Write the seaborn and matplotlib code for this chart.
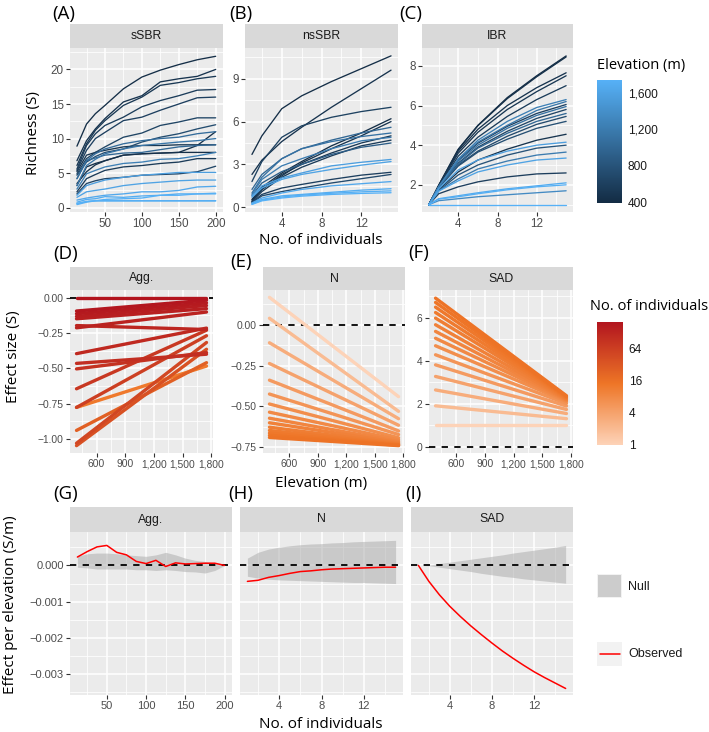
import matplotlib
matplotlib.use("Agg")
import matplotlib.pyplot as plt
import pandas as pd
import seaborn as sns
from matplotlib.cm import ScalarMappable
from matplotlib.colors import LinearSegmentedColormap, LogNorm, Normalize
from matplotlib.patches import Rectangle
from matplotlib.ticker import FixedLocator, FuncFormatter, NullFormatter

# ---------------- data ----------------
# (A) sample-based rarefaction, one curve per site
A_X = [12, 25, 37, 50, 75, 100, 125, 150, 175, 200]
A_ELEV = [420, 470, 520, 560, 600, 640, 720, 1050, 450, 1150, 500, 1000,
          430, 1250, 550, 650, 1550, 1600, 1650, 1700, 1740, 1680, 1720]
A_RICH = [
    [8.9, 12.1, 13.6, 14.8, 17.2, 18.9, 19.9, 20.7, 21.4, 21.9],
    [6.8, 9.7, 11.4, 12.9, 15.3, 16.2, 18.2, 18.65, 19.0, 20.0],
    [6.1, 9.25, 11.2, 12.6, 14.8, 16.0, 17.7, 18.1, 18.65, 19.0],
    [5.6, 9.0, 10.7, 11.9, 13.1, 14.6, 15.5, 16.2, 17.0, 17.1],
    [5.4, 8.3, 10.0, 10.9, 12.6, 13.1, 14.1, 15.0, 15.9, 16.0],
    [4.9, 7.1, 8.0, 8.8, 10.2, 10.8, 11.9, 12.4, 13.0, 13.0],
    [4.7, 6.6, 7.4, 8.0, 8.5, 9.5, 10.2, 10.7, 11.4, 12.0],
    [4.2, 6.8, 7.8, 8.5, 9.25, 9.7, 10.0, 10.2, 10.7, 11.0],
    [3.5, 5.2, 6.2, 6.8, 7.6, 7.8, 7.9, 8.0, 9.0, 11.0],
    [3.2, 6.1, 7.0, 7.8, 8.5, 9.0, 9.25, 9.5, 9.7, 10.0],
    [5.2, 7.6, 8.0, 8.3, 8.8, 9.0, 9.0, 9.1, 9.1, 9.1],
    [4.2, 6.8, 7.2, 7.6, 7.9, 8.0, 8.4, 8.8, 9.0, 9.1],
    [3.2, 5.9, 6.4, 6.8, 7.6, 7.8, 7.9, 8.0, 8.0, 8.0],
    [2.7, 4.9, 5.4, 5.9, 6.4, 6.6, 7.0, 7.1, 7.5, 8.0],
    [2.3, 4.2, 4.8, 5.4, 5.9, 6.1, 6.4, 6.6, 7.1, 7.1],
    [2.0, 3.5, 3.9, 4.2, 4.4, 4.7, 4.8, 4.9, 5.2, 6.0],
    [1.8, 3.2, 3.6, 4.0, 4.4, 4.7, 4.9, 5.1, 5.1, 5.1],
    [1.5, 2.3, 2.5, 2.7, 3.2, 3.5, 3.7, 3.9, 4.0, 4.0],
    [1.1, 1.4, 1.6, 1.8, 2.0, 2.3, 2.3, 2.5, 3.0, 3.1],
    [0.8, 1.2, 1.3, 1.6, 1.5, 1.7, 1.8, 2.0, 2.0, 2.1],
    [0.6, 0.9, 1.0, 1.2, 1.3, 1.4, 1.8, 1.8, 2.0, 2.0],
    [0.6, 0.9, 1.0, 1.0, 1.0, 1.0, 1.0, 1.0, 1.0, 1.0],
    [0.45, 0.8, 1.0, 1.0, 1.0, 1.0, 1.0, 1.0, 1.0, 1.0],
]

# (B) non-spatial sample-based rarefaction
B_X = [1, 2, 4, 6, 9, 12, 15]
B_ELEV = [420, 470, 620, 430, 480, 1000, 1100, 520, 1200, 550, 900,
          1550, 1600, 600, 700, 1650, 1700, 1720, 1740]
B_RICH = [
    [3.7, 5.0, 6.9, 7.8, 8.8, 9.7, 10.6],
    [2.3, 3.3, 4.6, 5.6, 7.0, 8.3, 9.6],
    [1.8, 3.2, 4.9, 5.7, 6.3, 6.7, 7.0],
    [0.55, 1.4, 2.4, 3.2, 4.3, 5.2, 6.2],
    [0.5, 1.25, 2.2, 3.1, 4.1, 5.0, 6.0],
    [1.25, 2.3, 3.4, 4.1, 4.7, 5.2, 5.6],
    [1.0, 2.1, 3.4, 4.1, 4.6, 4.95, 5.2],
    [0.4, 1.25, 2.3, 3.0, 3.8, 4.5, 5.0],
    [0.9, 1.95, 2.9, 3.4, 4.1, 4.65, 4.9],
    [0.4, 1.1, 2.1, 2.8, 3.6, 4.3, 4.7],
    [0.8, 1.7, 2.5, 3.0, 3.7, 4.2, 4.5],
    [0.8, 1.5, 2.05, 2.4, 2.9, 3.15, 3.35],
    [0.7, 1.35, 1.95, 2.3, 2.65, 2.95, 3.2],
    [0.35, 0.9, 1.35, 1.6, 1.95, 2.25, 2.45],
    [0.3, 0.8, 1.1, 1.35, 1.7, 2.0, 2.3],
    [0.3, 0.65, 1.0, 1.25, 1.5, 1.65, 1.8],
    [0.25, 0.55, 0.8, 0.9, 1.05, 1.2, 1.3],
    [0.22, 0.5, 0.72, 0.85, 0.98, 1.08, 1.15],
    [0.2, 0.45, 0.65, 0.78, 0.9, 0.97, 1.02],
]

# (C) individual-based rarefaction
C_X = [1, 2, 4, 6, 9, 12, 15]
C_ELEV = [400, 440, 470, 510, 560, 1250, 1150, 600, 1100, 650, 1000, 700,
          750, 480, 1550, 800, 1200, 1600, 580, 1680, 1720, 1350, 1740]
C_RICH = [
    [1, 1.98, 3.8, 5.0, 6.4, 7.5, 8.5],
    [1, 1.97, 3.78, 4.98, 6.35, 7.45, 8.45],
    [1, 1.95, 3.7, 4.8, 6.0, 6.9, 7.65],
    [1, 1.93, 3.6, 4.65, 5.8, 6.7, 7.5],
    [1, 1.92, 3.45, 4.4, 5.45, 6.3, 7.0],
    [1, 1.9, 3.3, 4.25, 5.2, 5.9, 6.3],
    [1, 1.9, 3.3, 4.15, 5.0, 5.75, 6.2],
    [1, 1.9, 3.25, 4.1, 4.95, 5.6, 6.05],
    [1, 1.88, 3.2, 4.0, 4.85, 5.5, 5.95],
    [1, 1.88, 3.1, 3.9, 4.7, 5.35, 5.8],
    [1, 1.87, 3.05, 3.85, 4.6, 5.2, 5.6],
    [1, 1.86, 3.0, 3.7, 4.45, 5.05, 5.45],
    [1, 1.85, 2.95, 3.65, 4.3, 4.85, 5.2],
    [1, 1.75, 2.65, 3.25, 3.8, 4.25, 4.55],
    [1, 1.8, 2.75, 3.25, 3.7, 4.0, 4.15],
    [1, 1.7, 2.5, 3.0, 3.5, 3.85, 4.0],
    [1, 1.7, 2.3, 2.8, 3.2, 3.5, 3.65],
    [1, 1.68, 2.2, 2.65, 3.0, 3.25, 3.35],
    [1, 1.55, 1.9, 2.15, 2.4, 2.55, 2.6],
    [1, 1.3, 1.45, 1.6, 1.8, 1.95, 2.1],
    [1, 1.28, 1.4, 1.55, 1.75, 1.9, 2.0],
    [1, 1.2, 1.3, 1.4, 1.5, 1.6, 1.7],
    [1, 1, 1, 1, 1, 1, 1],
]

# (D)-(F) fitted effect size at the lowest and highest elevation
LINE_ELEV = [390, 1750]
D_N = [12.5, 25, 37.5, 50, 62.5, 75, 87.5, 100, 112.5, 125, 137.5, 150,
       162.5, 175, 187.5, 200]
D_LEFT = [-0.777, -0.94, -1.048, -1.031, -0.777, -0.645, -0.504, -0.465,
          -0.396, -0.197, -0.213, -0.149, -0.132, -0.113, -0.094, 0.0]
D_RIGHT = [-0.484, -0.46, -0.365, -0.317, -0.269, -0.23, -0.388, -0.40,
           -0.215, -0.225, -0.101, -0.077, -0.055, -0.036, -0.017, 0.0]

E_N = [1, 2, 3, 4, 5, 6, 7, 8, 9, 10, 11, 12, 13, 14, 15]
E_LEFT = [0.168, 0.04, -0.11, -0.237, -0.339, -0.424, -0.485, -0.535,
          -0.572, -0.60, -0.627, -0.647, -0.663, -0.677, -0.69]
E_RIGHT = [-0.44, -0.53, -0.575, -0.615, -0.65, -0.672, -0.692, -0.705,
           -0.715, -0.722, -0.728, -0.732, -0.735, -0.738, -0.740]

F_N = E_N
F_LEFT = [1.01, 1.90, 2.64, 3.27, 3.81, 4.28, 4.70, 5.05, 5.37, 5.68, 5.99,
          6.25, 6.5, 6.72, 6.92]
F_RIGHT = [1.01, 1.30, 1.54, 1.73, 1.89, 2.01, 2.10, 2.15, 2.18, 2.21, 2.25,
           2.28, 2.31, 2.34, 2.37]

# (G)-(I) effect per elevation, observed vs null envelope
G_N = D_N
G_OBS = [0.00023, 0.00038, 0.00051, 0.00055, 0.00036, 0.00029, 0.00011,
         0.00005, 0.00014, -0.00003, 0.00007, 0.00004, 0.00005, 0.00006,
         0.00006, 0.0]
G_UP = [0.00025, 0.00032, 0.00034, 0.00034, 0.00032, 0.00029, 0.00027,
        0.00025, 0.00029, 0.00036, 0.00029, 0.0002, 0.00014, 0.00011,
        0.00006, 0.0]
G_LO = [-0.00005, -0.00007, -0.0001, -0.0001, -0.0001, -0.0001, -0.00012,
        -0.00012, -0.00014, -0.00012, -0.00014, -0.00017, -0.00018,
        -0.00021, -0.00014, 0.0]

H_N = E_N
H_OBS = [-0.00044, -0.00041, -0.00033, -0.00028, -0.00022, -0.00017,
         -0.00015, -0.00012, -0.0001, -0.00009, -0.00008, -0.00007,
         -0.00006, -0.00005, -0.00005]
H_UP = [0.0002, 0.00036, 0.00045, 0.0005, 0.00054, 0.00057, 0.00059, 0.0006,
        0.00062, 0.00063, 0.00065, 0.00066, 0.00067, 0.00068, 0.00069]
H_LO = [-0.0003, -0.00035, -0.00038, -0.0004, -0.00041, -0.00042, -0.00043,
        -0.00044, -0.00045, -0.00046, -0.00047, -0.00047, -0.00048,
        -0.00049, -0.0005]

I_N = E_N
I_OBS = [0.0, -0.00044, -0.00081, -0.00113, -0.00141, -0.00167, -0.00191,
         -0.00214, -0.00236, -0.00256, -0.00275, -0.00293, -0.00309,
         -0.00324, -0.00339]
I_UP = [0.0, 0.00001, 0.00005, 0.00009, 0.00013, 0.00017, 0.00021, 0.00025,
        0.00029, 0.00034, 0.00038, 0.00042, 0.00046, 0.0005, 0.00055]
I_LO = [0.0, -0.00001, -0.00005, -0.00009, -0.00013, -0.00017, -0.00022,
        -0.00026, -0.0003, -0.00033, -0.00037, -0.0004, -0.00043, -0.00046,
        -0.00049]

ELEV_TICKS = [400, 800, 1200, 1600]
N_TICKS = [1, 4, 16, 64]

# ---------------- styling ----------------
W, H = 709, 732
PANEL_BG = "#EBEBEB"
STRIP_BG = "#D9D9D9"
TICK_TXT = "#4D4D4D"
TITLE_FONT = ["Open Sans", "DejaVu Sans"]

sns.set_theme(style="darkgrid")
plt.rcParams["font.family"] = ["Liberation Sans", "DejaVu Sans"]
plt.rcParams["axes.unicode_minus"] = True

elev_cmap = LinearSegmentedColormap.from_list("elev", ["#132B43", "#56B1F7"])
elev_norm = Normalize(390, 1745)
n_cmap = LinearSegmentedColormap.from_list("nind", ["#FDD3B8", "#EE7526", "#B2151F"])
n_norm = LogNorm(1, 200)

fig = plt.figure(figsize=(W / 100, H / 100), dpi=100, facecolor="white")


def px_axes(x0, y0, x1, y1):
    return fig.add_axes([x0 / W, 1 - y1 / H, (x1 - x0) / W, (y1 - y0) / H])


def minus(fmt):
    return FuncFormatter(lambda v, _: format(v, fmt).replace("-", "\u2212"))


def style_panel(ax, xlim, ylim, xmaj, xmin, ymaj, ymin, xfmt, yfmt,
                size, show_y=True):
    ax.set_facecolor(PANEL_BG)
    ax.set_xlim(xlim)
    ax.set_ylim(ylim)
    ax.xaxis.set_major_locator(FixedLocator(xmaj))
    ax.xaxis.set_minor_locator(FixedLocator(xmin))
    ax.yaxis.set_major_locator(FixedLocator(ymaj))
    ax.yaxis.set_minor_locator(FixedLocator(ymin))
    ax.xaxis.set_major_formatter(xfmt)
    ax.yaxis.set_major_formatter(yfmt if show_y else NullFormatter())
    ax.grid(which="major", color="white", linewidth=1.1)
    ax.grid(which="minor", color="white", linewidth=0.55)
    ax.set_axisbelow(True)
    for s in ax.spines.values():
        s.set_visible(False)
    ax.tick_params(which="major", length=3, width=0.8, color="#333333",
                   labelcolor=TICK_TXT, labelsize=size, pad=1.5,
                   bottom=True, left=show_y)
    ax.tick_params(which="minor", length=0)
    ax.set_xlabel("")
    ax.set_ylabel("")


def add_strip(x0, x1, y0, y1, label, size=8.8):
    sax = px_axes(x0, y0, x1, y1)
    sax.set_facecolor(STRIP_BG)
    sax.set_xticks([])
    sax.set_yticks([])
    sax.grid(False)
    for s in sax.spines.values():
        s.set_visible(False)
    sax.text(0.5, 0.5, label, ha="center", va="center", fontsize=size,
             color="#1A1A1A", transform=sax.transAxes)


def curve_frame(xs, elevs, curves):
    rows = []
    for site, (elev, vals) in enumerate(zip(elevs, curves)):
        for x, s in zip(xs, vals):
            rows.append((site, elev, x, s))
    return pd.DataFrame(rows, columns=["site", "elev", "x", "S"])


def effect_frame(ns, left, right):
    rows = []
    for n, a, b in zip(ns, left, right):
        rows.append((n, LINE_ELEV[0], a))
        rows.append((n, LINE_ELEV[1], b))
    return pd.DataFrame(rows, columns=["n", "elev", "effect"])


def panel_label(x, y, txt):
    fig.text(x / W, 1 - y / H, txt, ha="left", va="center", fontsize=13.5,
             family=TITLE_FONT, color="black")


def axis_title(x, y, txt, rot=0):
    fig.text(x / W, 1 - y / H, txt, ha="center", va="center", fontsize=11,
             family=TITLE_FONT, color="black", rotation=rot)


int_fmt = FuncFormatter(lambda v, _: f"{v:,.0f}")

# ---------------- top row ----------------
top = [
    ("(A)", "sSBR", (70, 222.7), A_X, A_ELEV, A_RICH, (2.6, 209.5), (-0.62, 23.1),
     [50, 100, 150, 200], [25, 75, 125, 175], [0, 5, 10, 15, 20],
     [2.5, 7.5, 12.5, 17.5, 22.5], 52),
    ("(B)", "nsSBR", (245, 398), B_X, B_ELEV, B_RICH, (0.3, 15.7), (-0.33, 11.15),
     [4, 8, 12], [2, 6, 10, 14], [0, 3, 6, 9], [1.5, 4.5, 7.5, 10.5], 229),
    ("(C)", "IBR", (422, 573), C_X, C_ELEV, C_RICH, (0.3, 15.7), (0.63, 8.9),
     [4, 8, 12], [2, 6, 10, 14], [2, 4, 6, 8], [1, 3, 5, 7], 399),
]
for lab, strip, (x0, x1), xs, elevs, curves, xl, yl, xma, xmi, yma, ymi, lx in top:
    add_strip(x0, x1, 24, 48, strip)
    ax = px_axes(x0, 48, x1, 212)
    df = curve_frame(xs, elevs, curves)
    sns.lineplot(data=df, x="x", y="S", hue="elev", units="site", estimator=None,
                 palette=elev_cmap, hue_norm=elev_norm, linewidth=0.95,
                 legend=False, ax=ax)
    style_panel(ax, xl, yl, xma, xmi, yma, ymi, int_fmt, int_fmt, 8.4)
    panel_label(lx, 14, lab)

axis_title(33, 133, "Richness (S)", rot=90)
axis_title(321, 241, "No. of individuals")

# elevation colour bar
fig.text(597 / W, 1 - 66 / H, "Elevation (m)", ha="left", va="center",
         fontsize=10.5, family=TITLE_FONT, color="black")
cax = px_axes(597, 80, 622, 203)
cb = fig.colorbar(ScalarMappable(norm=elev_norm, cmap=elev_cmap), cax=cax,
                  ticks=ELEV_TICKS)
cb.ax.set_yticklabels([f"{t:,}" for t in ELEV_TICKS])

# ---------------- middle row ----------------
mid = [
    ("(D)", "Agg.", (70, 213), D_N, D_LEFT, D_RIGHT, (-1.10, 0.055),
     [-1.0, -0.75, -0.5, -0.25, 0.0], [-1.125, -0.875, -0.625, -0.375, -0.125, 0.125],
     minus(".2f"), 53, 254),
    ("(E)", "N", (263, 405), E_N, E_LEFT, E_RIGHT, (-0.785, 0.213),
     [-0.75, -0.5, -0.25, 0.0], [-0.625, -0.375, -0.125, 0.125],
     minus(".2f"), 230, 262),
    ("(F)", "SAD", (429, 573), F_N, F_LEFT, F_RIGHT, (-0.3, 7.3),
     [0, 2, 4, 6], [1, 3, 5, 7], int_fmt, 408, 253),
]
for lab, strip, (x0, x1), ns, left, right, yl, yma, ymi, yf, lx, ly in mid:
    add_strip(x0, x1, 267, 290, strip)
    ax = px_axes(x0, 290, x1, 453)
    ax.axhline(0, color="black", linewidth=1.3, linestyle=(0, (3.5, 3.5)), zorder=1.5)
    df = effect_frame(ns, left, right)
    sns.lineplot(data=df, x="elev", y="effect", hue="n", units="n", estimator=None,
                 palette=n_cmap, hue_norm=n_norm, linewidth=2.4,
                 legend=False, ax=ax)
    style_panel(ax, (322, 1818), yl, [600, 900, 1200, 1500, 1800],
                [450, 750, 1050, 1350, 1650], yma, ymi, int_fmt, yf, 7.4)
    panel_label(lx, ly, lab)

axis_title(14, 357, "Effect size (S)", rot=90)
axis_title(321, 483, "Elevation (m)")

fig.text(590 / W, 1 - 307 / H, "No. of individuals", ha="left", va="center",
         fontsize=10.5, family=TITLE_FONT, color="black")
cax2 = px_axes(597, 322, 623, 445)
cb2 = fig.colorbar(ScalarMappable(norm=n_norm, cmap=n_cmap), cax=cax2, ticks=N_TICKS)
cb2.ax.set_yticklabels([str(t) for t in N_TICKS])
cb2.ax.minorticks_off()

for c in (cb, cb2):
    c.outline.set_visible(False)
    c.ax.grid(False)
    c.ax.tick_params(which="major", direction="in", color="white", length=3.6,
                     width=0.8, left=True, right=True, labelsize=8.6,
                     labelcolor="#1A1A1A", pad=4)

# ---------------- bottom row ----------------
bot = [
    ("(G)", "Agg.", (70, 232), G_N, G_OBS, G_UP, G_LO, (3.1, 209.4),
     [50, 100, 150, 200], [25, 75, 125, 175], True, 53),
    ("(H)", "N", (240, 403), H_N, H_OBS, H_UP, H_LO, (0.3, 15.7),
     [4, 8, 12], [2, 6, 10, 14], False, 228),
    ("(I)", "SAD", (411, 573), I_N, I_OBS, I_UP, I_LO, (0.3, 15.7),
     [4, 8, 12], [2, 6, 10, 14], False, 405),
]
NULL_FILL = "#A8A8A8"
for lab, strip, (x0, x1), ns, obs, up, lo, xl, xma, xmi, show_y, lx in bot:
    add_strip(x0, x1, 507, 532, strip)
    ax = px_axes(x0, 532, x1, 695)
    ax.fill_between(ns, lo, up, color=NULL_FILL, alpha=0.5, linewidth=0, zorder=1.2)
    ax.axhline(0, color="black", linewidth=1.3, linestyle=(0, (3.5, 3.5)), zorder=1.6)
    sns.lineplot(x=ns, y=obs, color="red", linewidth=1.1, ax=ax, zorder=2)
    style_panel(ax, xl, (-0.00357, 0.00092), xma, xmi,
                [-0.003, -0.002, -0.001, 0.0],
                [-0.0035, -0.0025, -0.0015, -0.0005, 0.0005],
                int_fmt, minus(".3f"), 8.0, show_y=show_y)
    panel_label(lx, 494, lab)

axis_title(11, 605, "Effect per elevation (S/m)", rot=90)
axis_title(321, 724, "No. of individuals")

# legend keys for the bottom row
kax = px_axes(597, 574, 622, 598)
kax.set_facecolor("#F2F2F2")
kax.add_patch(Rectangle((0.04, 0.04), 0.92, 0.92, transform=kax.transAxes,
                        facecolor=NULL_FILL, alpha=0.5, linewidth=0))
kax2 = px_axes(597, 642, 622, 666)
kax2.set_facecolor("#F2F2F2")
kax2.axhline(0.5, xmin=0.1, xmax=0.9, color="red", linewidth=1.1)
for k in (kax, kax2):
    k.set_xticks([])
    k.set_yticks([])
    k.set_xlim(0, 1)
    k.set_ylim(0, 1)
    k.grid(False)
    for s in k.spines.values():
        s.set_visible(False)
fig.text(628 / W, 1 - 587 / H, "Null", ha="left", va="center", fontsize=9,
         color="#1A1A1A")
fig.text(628 / W, 1 - 654 / H, "Observed", ha="left", va="center", fontsize=9,
         color="#1A1A1A")

fig.savefig("out.png", dpi=100, facecolor="white")
